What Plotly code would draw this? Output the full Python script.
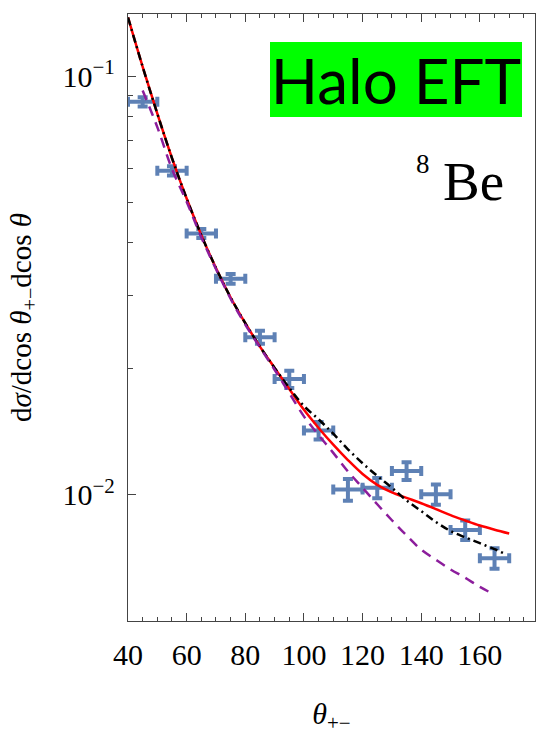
import plotly.graph_objects as go

# Measured angular distribution (binned data with uncertainties)
theta_data = [45, 55, 65, 75, 85, 95, 105, 115, 125, 135, 145, 155, 165]
xsec_data = [0.0868, 0.0594, 0.0421, 0.0328, 0.0238, 0.0189, 0.01424,
             0.0103, 0.0104, 0.01141, 0.01003, 0.00825, 0.00706]
theta_err = [5, 5, 5, 5, 5, 5, 5, 5, 5, 5, 5, 5, 5]
xsec_err = [0.0022, 0.0015, 0.00105, 0.0009, 0.00085, 0.0009, 0.00068,
            0.00061, 0.00058, 0.00055, 0.00056, 0.00044, 0.0004]

# Halo EFT calculation (solid red)
theta_red = [40, 45, 50, 55, 60, 65, 70, 75, 80, 85, 90, 95, 100, 105, 110,
             115, 120, 125, 130, 135, 140, 145, 150, 155, 160, 165, 170]
xsec_red = [0.1380, 0.1052, 0.0813, 0.0637, 0.0510, 0.0417, 0.0348, 0.0296,
            0.0257, 0.0226, 0.0201, 0.0179, 0.01596, 0.01445, 0.01318,
            0.01211, 0.01122, 0.01057, 0.01014, 0.00984, 0.00955, 0.00925,
            0.00895, 0.00869, 0.00845, 0.00826, 0.00809]

# Comparison curve (black dash-dot)
theta_black = [40, 45, 50, 55, 60, 65, 70, 75, 80, 85, 90, 95, 100, 105, 110,
               115, 120, 125, 130, 135, 140, 145, 150, 155, 160, 165, 168]
xsec_black = [0.1380, 0.1052, 0.0813, 0.0637, 0.0510, 0.0417, 0.0348, 0.0296,
              0.0257, 0.0226, 0.0201, 0.0180, 0.0163, 0.01515, 0.0140,
              0.01285, 0.0119, 0.0111, 0.0104, 0.0097, 0.00915, 0.00862,
              0.00820, 0.00792, 0.00767, 0.00742, 0.00726]

# Comparison curve (purple dashed)
theta_purple = [45, 50, 55, 60, 65, 70, 75, 80, 85, 90, 95, 100, 105, 110,
                115, 120, 125, 130, 135, 140, 145, 150, 155, 160, 165]
xsec_purple = [0.0923, 0.0755, 0.0600, 0.0501, 0.0412, 0.0346, 0.0294, 0.0255,
               0.0225, 0.0199, 0.0175, 0.0154, 0.0139, 0.0126, 0.01138,
               0.0104, 0.0095, 0.0087, 0.0080, 0.0074, 0.0070, 0.00664,
               0.00634, 0.00603, 0.00578]

x_ticks = [40, 60, 80, 100, 120, 140, 160]
y_ticks = [0.01, 0.1]
y_ticktext = ["10<sup>\u22122</sup>", "10<sup>\u22121</sup>"]
y_minor = [0.02, 0.03, 0.04, 0.05, 0.06, 0.07, 0.08, 0.09]

SERIF = "Liberation Serif"
AXIS_COLOR = "#444444"
DATA_BLUE = "#5E81B5"

fig = go.Figure()

fig.add_trace(go.Scatter(
    x=theta_data, y=xsec_data, mode="markers",
    marker=dict(size=1, color=DATA_BLUE),
    error_x=dict(type="data", array=theta_err, color=DATA_BLUE,
                 thickness=4, width=5),
    error_y=dict(type="data", array=xsec_err, color=DATA_BLUE,
                 thickness=4, width=5),
    showlegend=False,
))

fig.add_trace(go.Scatter(
    x=theta_red, y=xsec_red, mode="lines", line_shape="spline",
    line=dict(color="#FF0000", width=2.5), showlegend=False,
))
fig.add_trace(go.Scatter(
    x=theta_black, y=xsec_black, mode="lines", line_shape="spline",
    line=dict(color="#000000", width=2.5, dash="8px,4px,2px,4px"),
    showlegend=False,
))
fig.add_trace(go.Scatter(
    x=theta_purple, y=xsec_purple, mode="lines", line_shape="spline",
    line=dict(color="#8C1D9C", width=2.5, dash="10px,7px"),
    showlegend=False,
))

fig.update_layout(
    width=552, height=744,
    margin=dict(l=128, r=17, t=14, b=123),
    paper_bgcolor="white", plot_bgcolor="white",
    xaxis=dict(
        range=[40, 178.8], tickmode="array", tickvals=x_ticks,
        ticks="inside", ticklen=8, tickwidth=1.2, tickcolor=AXIS_COLOR,
        showline=True, linecolor=AXIS_COLOR, linewidth=1.3, mirror="ticks",
        showgrid=False, zeroline=False,
        minor=dict(dtick=5, tick0=40, ticks="inside", ticklen=4,
                   tickwidth=1.2, tickcolor=AXIS_COLOR, showgrid=False),
        tickfont=dict(family=SERIF, size=30, color="black"),
        ticklabelstandoff=7,
        title=dict(text="<i>\u03b8</i><sub>+\u2212</sub>",
                   font=dict(family=SERIF, size=30, color="black"),
                   standoff=32),
    ),
    yaxis=dict(
        type="log", range=[-2.301, -0.852], tickmode="array",
        tickvals=y_ticks, ticktext=y_ticktext,
        ticks="inside", ticklen=8, tickwidth=1.2, tickcolor=AXIS_COLOR,
        showline=True, linecolor=AXIS_COLOR, linewidth=1.3, mirror=True,
        showgrid=False, zeroline=False,
        minor=dict(tickmode="array", tickvals=y_minor, ticks="inside",
                   ticklen=5, tickwidth=1.2, tickcolor=AXIS_COLOR,
                   showgrid=False),
        tickfont=dict(family=SERIF, size=30, color="black"),
        ticklabelstandoff=6,
        title=dict(text="d<i>\u03c3</i>/dcos <i>\u03b8</i><sub>+\u2212</sub>dcos <i>\u03b8</i>",
                   font=dict(family=SERIF, size=29, color="black"),
                   standoff=22),
    ),
    annotations=[
        dict(text="Halo EFT", xref="paper", yref="paper",
             x=0.3484, y=0.9539, xanchor="left", yanchor="top",
             width=252, height=75, borderpad=0, borderwidth=0,
             bgcolor="#00FF00", align="center", valign="middle",
             showarrow=False,
             font=dict(family="Lato", size=62, color="black")),
        dict(text="8", xref="paper", yref="paper",
             x=0.725, y=0.7537, xanchor="center", yanchor="middle",
             showarrow=False,
             font=dict(family=SERIF, size=27, color="black")),
        dict(text="Be", xref="paper", yref="paper",
             x=0.7690, y=0.7241, xanchor="left", yanchor="middle",
             showarrow=False,
             font=dict(family=SERIF, size=55, color="black")),
    ],
)

fig.write_html("out.html")
